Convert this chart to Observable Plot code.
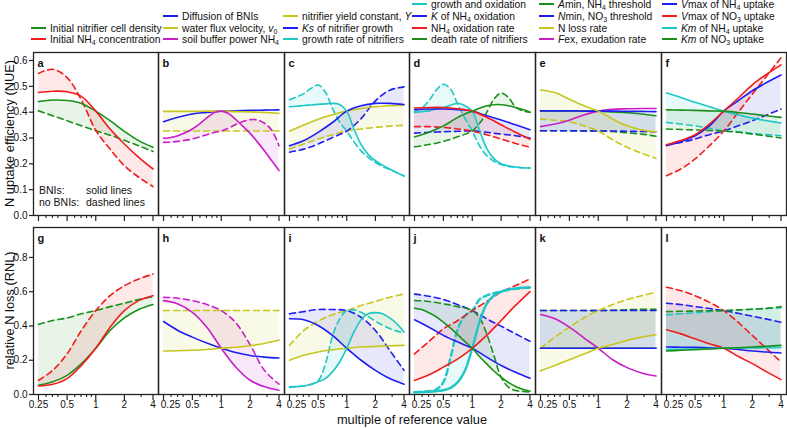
<!DOCTYPE html>
<html><head><meta charset="utf-8">
<script src="https://cdn.jsdelivr.net/npm/d3@7"></script>
<script src="https://cdn.jsdelivr.net/npm/@observablehq/plot@0.6"></script>
<style>
body{margin:0;background:#fff;font-family:"Liberation Sans",Arial,sans-serif;color:#111;}
#chart{position:relative;width:787px;height:428px;overflow:hidden;background:#fff;}
.leg{position:absolute;font-size:10.3px;line-height:12px;white-space:nowrap;}
.sw{display:inline-block;width:15px;height:0;border-top:2px solid;vertical-align:middle;margin-right:4px;position:relative;top:-1px;}
sub{font-size:0.68em;vertical-align:-0.3em;line-height:0;}
.note{position:absolute;font-size:10.5px;white-space:nowrap;}
.title{position:absolute;font-size:12.8px;line-height:13px;white-space:nowrap;text-align:center;}
</style></head><body><div id="chart"></div><script>
// ---------- x grids ----------
const X9 = [0.25, 0.3536, 0.5, 0.7071, 1, 1.4142, 2, 2.8284, 4];
const X17 = [0.25, 0.2973, 0.3536, 0.4204, 0.5, 0.5946, 0.7071, 0.8409, 1, 1.1892, 1.4142, 1.6818, 2, 2.3784, 2.8284, 3.3636, 4];
// ---------- ticks ----------
const xTicks = [0.25, 0.5, 1, 2, 4];
const xMinor = [0.3, 0.35, 0.4, 0.6, 0.7, 0.8, 0.9, 3];
const yTicksNUE = [0, 0.1, 0.2, 0.3, 0.4, 0.5, 0.6];
const yTicksRNL = [0, 0.2, 0.4, 0.6, 0.8];
// ---------- panel a ----------
const a_green_bni = [0.441, 0.447, 0.445, 0.434, 0.404, 0.367, 0.326, 0.29, 0.264];
const a_green_no  = [0.405, 0.386, 0.367, 0.347, 0.328, 0.311, 0.291, 0.27, 0.248];
const a_red_bni   = [0.476, 0.481, 0.479, 0.461, 0.404, 0.335, 0.277, 0.225, 0.18];
const a_red_no    = [0.55, 0.566, 0.534, 0.447, 0.33, 0.257, 0.193, 0.148, 0.112];
// ---------- panel b ----------
const b_blue_bni   = [0.363, 0.38, 0.393, 0.399, 0.404, 0.405, 0.407, 0.408, 0.409];
const b_yellow_bni = [0.403, 0.403, 0.403, 0.404, 0.404, 0.402, 0.401, 0.399, 0.396];
const b_yellow_no  = [0.327, 0.327, 0.327, 0.327, 0.327, 0.327, 0.327, 0.327, 0.327];
const b_magenta_bni = [0.299, 0.302, 0.309, 0.32, 0.335, 0.355, 0.378, 0.398, 0.404, 0.395, 0.372, 0.345, 0.318, 0.285, 0.25, 0.212, 0.174];
const b_magenta_no  = [0.283, 0.284, 0.287, 0.291, 0.296, 0.304, 0.313, 0.321, 0.327, 0.338, 0.352, 0.364, 0.371, 0.37, 0.357, 0.33, 0.27];
// ---------- panel c ----------
const c_yellow_bni = [0.326, 0.35, 0.373, 0.39, 0.404, 0.414, 0.421, 0.425, 0.427];
const c_yellow_no  = [0.257, 0.277, 0.296, 0.313, 0.327, 0.335, 0.341, 0.346, 0.349];
const c_blue_bni   = [0.27, 0.29, 0.322, 0.36, 0.404, 0.425, 0.434, 0.434, 0.43];
const c_blue_no    = [0.245, 0.257, 0.277, 0.302, 0.327, 0.375, 0.444, 0.485, 0.498];
const c_cyan_bni = [0.421, 0.423, 0.426, 0.428, 0.43, 0.432, 0.434, 0.43, 0.404, 0.335, 0.275, 0.236, 0.212, 0.195, 0.18, 0.166, 0.152];
const c_cyan_no  = [0.448, 0.459, 0.472, 0.492, 0.505, 0.478, 0.415, 0.362, 0.327, 0.285, 0.25, 0.225, 0.205, 0.19, 0.178, 0.166, 0.154];
// ---------- panel d ----------
const d_cyan_bni = [0.399, 0.402, 0.405, 0.412, 0.418, 0.427, 0.434, 0.425, 0.404, 0.33, 0.26, 0.22, 0.2, 0.192, 0.188, 0.185, 0.184];
const d_cyan_no  = [0.402, 0.416, 0.444, 0.485, 0.508, 0.489, 0.43, 0.375, 0.327, 0.27, 0.232, 0.21, 0.197, 0.19, 0.187, 0.185, 0.184];
const d_blue_bni = [0.41, 0.412, 0.412, 0.41, 0.404, 0.386, 0.37, 0.351, 0.332];
const d_blue_no  = [0.319, 0.322, 0.324, 0.326, 0.327, 0.322, 0.315, 0.309, 0.3];
const d_red_bni  = [0.416, 0.418, 0.418, 0.413, 0.404, 0.38, 0.351, 0.322, 0.295];
const d_red_no   = [0.344, 0.344, 0.341, 0.335, 0.327, 0.313, 0.296, 0.279, 0.264];
const d_green_bni = [0.305, 0.313, 0.322, 0.334, 0.347, 0.363, 0.38, 0.393, 0.404, 0.415, 0.425, 0.429, 0.429, 0.425, 0.418, 0.41, 0.4];
const d_green_no  = [0.266, 0.27, 0.275, 0.28, 0.287, 0.295, 0.305, 0.315, 0.327, 0.356, 0.399, 0.45, 0.474, 0.457, 0.42, 0.405, 0.4];
// ---------- panel e ----------
const e_green_bni   = [0.405, 0.405, 0.405, 0.404, 0.404, 0.401, 0.398, 0.393, 0.386];
const e_green_no    = [0.328, 0.328, 0.328, 0.327, 0.327, 0.325, 0.32, 0.315, 0.307];
const e_blue_bni    = [0.405, 0.405, 0.405, 0.404, 0.404, 0.404, 0.403, 0.403, 0.402];
const e_blue_no     = [0.328, 0.328, 0.328, 0.327, 0.327, 0.327, 0.326, 0.325, 0.324];
const e_yellow_bni  = [0.486, 0.476, 0.45, 0.425, 0.404, 0.373, 0.347, 0.331, 0.324];
const e_yellow_no   = [0.373, 0.369, 0.363, 0.347, 0.327, 0.293, 0.264, 0.241, 0.221];
const e_magenta_bni = [0.344, 0.354, 0.369, 0.389, 0.404, 0.411, 0.413, 0.414, 0.414];
// ---------- panel f ----------
const f_blue_bni  = [0.27, 0.286, 0.309, 0.347, 0.404, 0.444, 0.483, 0.515, 0.544];
const f_blue_no   = [0.273, 0.283, 0.296, 0.313, 0.327, 0.347, 0.367, 0.389, 0.412];
const f_red_bni   = [0.274, 0.29, 0.313, 0.354, 0.404, 0.454, 0.506, 0.547, 0.583];
const f_red_no    = [0.154, 0.18, 0.219, 0.27, 0.327, 0.399, 0.47, 0.54, 0.611];
const f_cyan_bni  = [0.474, 0.457, 0.438, 0.421, 0.404, 0.39, 0.377, 0.367, 0.358];
const f_cyan_no   = [0.36, 0.354, 0.347, 0.338, 0.327, 0.324, 0.318, 0.313, 0.309];
const f_green_bni = [0.409, 0.408, 0.407, 0.405, 0.404, 0.399, 0.393, 0.386, 0.38];
const f_green_no  = [0.335, 0.333, 0.331, 0.329, 0.327, 0.322, 0.315, 0.308, 0.3];
// ---------- panel g ----------
const g_green_bni = [0.054, 0.074, 0.112, 0.18, 0.27, 0.374, 0.447, 0.496, 0.525];
const g_green_no  = [0.409, 0.432, 0.447, 0.471, 0.49, 0.513, 0.533, 0.554, 0.571];
const g_red_bni   = [0.05, 0.06, 0.093, 0.17, 0.27, 0.393, 0.49, 0.548, 0.577];
const g_red_no    = [0.083, 0.141, 0.238, 0.374, 0.49, 0.577, 0.635, 0.674, 0.703];
// ---------- panel h ----------
const h_blue_bni    = [0.426, 0.374, 0.335, 0.3, 0.27, 0.245, 0.228, 0.218, 0.213];
const h_yellow_bni  = [0.254, 0.255, 0.258, 0.263, 0.27, 0.276, 0.285, 0.298, 0.318];
const h_yellow_no   = [0.49, 0.49, 0.49, 0.49, 0.49, 0.49, 0.49, 0.49, 0.49];
const h_magenta_bni = [0.548, 0.529, 0.48, 0.393, 0.27, 0.161, 0.083, 0.045, 0.025];
const h_magenta_no  = [0.568, 0.562, 0.548, 0.525, 0.49, 0.42, 0.29, 0.14, 0.06];
// ---------- panel i ----------
const i_yellow_bni = [0.2, 0.229, 0.248, 0.261, 0.27, 0.277, 0.281, 0.285, 0.287];
const i_yellow_no  = [0.287, 0.374, 0.428, 0.466, 0.49, 0.519, 0.544, 0.568, 0.587];
const i_blue_bni   = [0.442, 0.436, 0.403, 0.345, 0.27, 0.2, 0.141, 0.093, 0.06];
const i_blue_no    = [0.471, 0.484, 0.496, 0.496, 0.49, 0.451, 0.374, 0.258, 0.141];
const i_cyan_bni = [0.041, 0.045, 0.05, 0.06, 0.074, 0.093, 0.132, 0.19, 0.27, 0.364, 0.436, 0.471, 0.478, 0.471, 0.447, 0.413, 0.364];
const i_cyan_no  = [0.045, 0.047, 0.05, 0.058, 0.08, 0.175, 0.34, 0.44, 0.49, 0.494, 0.48, 0.455, 0.428, 0.405, 0.385, 0.37, 0.36];
// ---------- panel j ----------
const j_cyan_bni = [0.012, 0.014, 0.016, 0.019, 0.025, 0.039, 0.072, 0.14, 0.27, 0.422, 0.529, 0.578, 0.601, 0.613, 0.619, 0.623, 0.625];
const j_cyan_no  = [0.014, 0.016, 0.019, 0.029, 0.072, 0.218, 0.383, 0.46, 0.49, 0.555, 0.578, 0.592, 0.601, 0.611, 0.617, 0.621, 0.625];
const j_blue_bni = [0.436, 0.393, 0.345, 0.306, 0.27, 0.218, 0.169, 0.13, 0.095];
const j_blue_no  = [0.586, 0.574, 0.555, 0.524, 0.49, 0.442, 0.399, 0.354, 0.311];
const j_red_bni  = [0.082, 0.115, 0.16, 0.208, 0.27, 0.345, 0.432, 0.52, 0.601];
const j_red_no   = [0.237, 0.309, 0.383, 0.432, 0.49, 0.543, 0.598, 0.636, 0.675];
const j_green_bni = [0.504, 0.496, 0.477, 0.454, 0.422, 0.388, 0.348, 0.309, 0.27, 0.222, 0.179, 0.137, 0.101, 0.071, 0.047, 0.03, 0.019];
const j_green_no  = [0.549, 0.547, 0.543, 0.537, 0.529, 0.522, 0.512, 0.505, 0.49, 0.45, 0.354, 0.228, 0.101, 0.043, 0.023, 0.018, 0.014];
// ---------- panel k ----------
const k_green_bni   = [0.27, 0.27, 0.27, 0.27, 0.27, 0.27, 0.27, 0.27, 0.27];
const k_green_no    = [0.49, 0.49, 0.49, 0.49, 0.49, 0.492, 0.495, 0.497, 0.498];
const k_blue_bni    = [0.27, 0.27, 0.27, 0.27, 0.27, 0.27, 0.27, 0.27, 0.27];
const k_blue_no     = [0.49, 0.49, 0.49, 0.49, 0.49, 0.49, 0.49, 0.49, 0.49];
const k_yellow_bni  = [0.138, 0.17, 0.203, 0.236, 0.27, 0.292, 0.316, 0.335, 0.349];
const k_yellow_no   = [0.27, 0.335, 0.393, 0.447, 0.49, 0.525, 0.554, 0.577, 0.597];
const k_magenta_bni = [0.467, 0.442, 0.393, 0.331, 0.27, 0.203, 0.157, 0.126, 0.108];
// ---------- panel l ----------
const l_blue_bni  = [0.277, 0.276, 0.275, 0.272, 0.27, 0.263, 0.254, 0.248, 0.242];
const l_blue_no   = [0.533, 0.525, 0.513, 0.502, 0.49, 0.474, 0.457, 0.44, 0.422];
const l_red_bni   = [0.378, 0.354, 0.325, 0.296, 0.27, 0.223, 0.18, 0.132, 0.087];
const l_red_no    = [0.626, 0.606, 0.577, 0.538, 0.49, 0.422, 0.345, 0.267, 0.19];
const l_cyan_bni  = [0.262, 0.264, 0.266, 0.268, 0.27, 0.271, 0.272, 0.273, 0.274];
const l_cyan_no   = [0.465, 0.471, 0.477, 0.484, 0.49, 0.494, 0.498, 0.502, 0.506];
const l_green_bni = [0.254, 0.258, 0.262, 0.266, 0.27, 0.273, 0.277, 0.282, 0.287];
const l_green_no  = [0.484, 0.486, 0.487, 0.489, 0.49, 0.494, 0.498, 0.503, 0.513];
// ---------- legends ----------
const legend0 = [["green", "Initial nitrifier cell density"], ["red", "Initial NH<sub>4</sub> concentration"]];
const legend1 = [["blue", "Diffusion of BNIs"], ["yellow", "water flux velocity, <i>v</i><sub>0</sub>"], ["magenta", "soil buffer power NH<sub>4</sub>"]];
const legend2 = [["yellow", "nitrifier yield constant, <i>Y</i>"], ["blue", "<i>Ks</i> of nitrifier growth"], ["cyan", "growth rate of nitrifiers"]];
const legend3 = [["cyan", "growth and oxidation"], ["blue", "<i>K</i> of NH<sub>4</sub> oxidation"], ["red", "NH<sub>4</sub> oxidation rate"], ["green", "death rate of nitrifiers"]];
const legend4 = [["green", "<i>A</i>min, NH<sub>4</sub> threshold"], ["blue", "<i>N</i>min, NO<sub>3</sub> threshold"], ["yellow", "N loss rate"], ["magenta", "<i>F</i>ex, exudation rate"]];
const legend5 = [["blue", "<i>V</i>max of NH<sub>4</sub> uptake"], ["red", "<i>V</i>max of NO<sub>3</sub> uptake"], ["cyan", "<i>Km</i> of NH<sub>4</sub> uptake"], ["green", "<i>Km</i> of NO<sub>3</sub> uptake"]];

const COLORS = {green: "#1a901a", red: "#f21c1c", blue: "#1e1ef0", yellow: "#c6c61e", magenta: "#c81ec8", cyan: "#1ec6c6"};

// ---------- assemble ----------
const S = (c, xs, bni, no, w) => ({c, xs, bni, no, w: w || 1.6});
const panels = [
  {id: "a", row: 0, col: 0, series: [S("green", X9, a_green_bni, a_green_no), S("red", X9, a_red_bni, a_red_no)]},
  {id: "b", row: 0, col: 1, series: [S("blue", X9, b_blue_bni, null), S("yellow", X9, b_yellow_bni, b_yellow_no), S("magenta", X17, b_magenta_bni, b_magenta_no)]},
  {id: "c", row: 0, col: 2, series: [S("yellow", X9, c_yellow_bni, c_yellow_no), S("blue", X9, c_blue_bni, c_blue_no), S("cyan", X17, c_cyan_bni, c_cyan_no)]},
  {id: "d", row: 0, col: 3, series: [S("cyan", X17, d_cyan_bni, d_cyan_no), S("blue", X9, d_blue_bni, d_blue_no), S("red", X9, d_red_bni, d_red_no), S("green", X17, d_green_bni, d_green_no)]},
  {id: "e", row: 0, col: 4, series: [S("magenta", X9, e_magenta_bni, null), S("green", X9, e_green_bni, e_green_no), S("blue", X9, e_blue_bni, e_blue_no), S("yellow", X9, e_yellow_bni, e_yellow_no)]},
  {id: "f", row: 0, col: 5, series: [S("blue", X9, f_blue_bni, f_blue_no), S("red", X9, f_red_bni, f_red_no), S("cyan", X9, f_cyan_bni, f_cyan_no), S("green", X9, f_green_bni, f_green_no)]},
  {id: "g", row: 1, col: 0, series: [S("green", X9, g_green_bni, g_green_no), S("red", X9, g_red_bni, g_red_no)]},
  {id: "h", row: 1, col: 1, series: [S("blue", X9, h_blue_bni, null), S("magenta", X9, h_magenta_bni, h_magenta_no), S("yellow", X9, h_yellow_bni, h_yellow_no)]},
  {id: "i", row: 1, col: 2, series: [S("yellow", X9, i_yellow_bni, i_yellow_no), S("blue", X9, i_blue_bni, i_blue_no), S("cyan", X17, i_cyan_bni, i_cyan_no)]},
  {id: "j", row: 1, col: 3, series: [S("cyan", X17, j_cyan_bni, j_cyan_no, 2.4), S("blue", X9, j_blue_bni, j_blue_no), S("red", X9, j_red_bni, j_red_no), S("green", X17, j_green_bni, j_green_no)]},
  {id: "k", row: 1, col: 4, series: [S("magenta", X9, k_magenta_bni, null), S("green", X9, k_green_bni, k_green_no), S("blue", X9, k_blue_bni, k_blue_no), S("yellow", X9, k_yellow_bni, k_yellow_no)]},
  {id: "l", row: 1, col: 5, series: [S("blue", X9, l_blue_bni, l_blue_no), S("red", X9, l_red_bni, l_red_no), S("cyan", X9, l_cyan_bni, l_cyan_no), S("green", X9, l_green_bni, l_green_no)]}
];

const COL_X = [33, 158, 284, 409, 535, 661, 786];
const ROWS = [
  {top: 52, bottom: 215, ymax: 0.631, yticks: yTicksNUE},
  {top: 227, bottom: 394, ymax: 0.975, yticks: yTicksRNL}
];
const XDOM = [0.2216, 4.566];
const chart = document.getElementById("chart");
const FONT = "'Liberation Sans', Arial, sans-serif";
const INK = "#222";

function drawPanel(p) {
  const R = ROWS[p.row];
  const left = COL_X[p.col], right = COL_X[p.col + 1];
  const mL = p.col === 0 ? 34 : 2, mR = 2, mT = 2, mB = p.row === 0 ? 10 : 24;
  const w = right - left + mL + mR, h = R.bottom - R.top + mT + mB;
  const ppu = (R.bottom - R.top) / R.ymax;
  const ppx = (right - left) / Math.log2(XDOM[1] / XDOM[0]);
  const marks = [];
  for (const s of p.series) {
    if (!s.no) continue;
    const rows = s.xs.map((x, i) => ({x, a: s.bni[i], b: s.no[i]}));
    marks.push(Plot.areaY(rows, {x: "x", y1: "a", y2: "b", fill: COLORS[s.c], fillOpacity: 0.1, curve: "catmull-rom"}));
  }
  for (const s of p.series) {
    if (!s.no) continue;
    const rows = s.xs.map((x, i) => ({x, y: s.no[i]}));
    marks.push(Plot.line(rows, {x: "x", y: "y", stroke: COLORS[s.c], strokeWidth: s.w, strokeDasharray: "6,4", curve: "catmull-rom", clip: true}));
  }
  for (const s of p.series) {
    const rows = s.xs.map((x, i) => ({x, y: s.bni[i]}));
    marks.push(Plot.line(rows, {x: "x", y: "y", stroke: COLORS[s.c], strokeWidth: s.w, curve: "catmull-rom", clip: true}));
  }
  marks.push(Plot.frame({stroke: INK, strokeWidth: 1.3}));
  marks.push(Plot.ruleX(xTicks, {x: d => d, y1: 0, y2: -6 / ppu, stroke: INK, strokeWidth: 1.2}));
  marks.push(Plot.ruleX(xMinor, {x: d => d, y1: 0, y2: -3 / ppu, stroke: INK, strokeWidth: 1.1}));
  if (p.row === 1) {
    const shift = p.col === 0 ? 0 : 7;
    marks.push(Plot.text(xTicks.filter(d => d === 0.25), {x: d => d, text: d => String(d), frameAnchor: "bottom", dy: 13.5, dx: shift, fontSize: 10, fill: "#111"}));
    marks.push(Plot.text(xTicks.filter(d => d !== 0.25), {x: d => d, text: d => String(d), frameAnchor: "bottom", dy: 13.5, fontSize: 10, fill: "#111"}));
  }
  if (p.col === 0) {
    const xl = XDOM[0] / Math.pow(2, 4 / ppx);
    marks.push(Plot.ruleY(R.yticks, {y: d => d, x1: xl, x2: XDOM[0], stroke: INK, strokeWidth: 1.2}));
    marks.push(Plot.text(R.yticks, {y: d => d, text: d => d.toFixed(1), frameAnchor: "left", dx: -6, textAnchor: "end", fontSize: 10, fill: "#111"}));
  }
  marks.push(Plot.text([p.id], {frameAnchor: "top-left", dx: 4, dy: 7, text: d => d, fontWeight: "bold", fontSize: 11, fill: "#111"}));
  const svg = Plot.plot({
    width: w, height: h, marginLeft: mL, marginRight: mR, marginTop: mT, marginBottom: mB,
    x: {type: "log", domain: XDOM, axis: null},
    y: {domain: [0, R.ymax], axis: null},
    style: {fontFamily: FONT, fontSize: "10px", color: "#111", background: "transparent", overflow: "visible"},
    marks
  });
  svg.style.position = "absolute";
  svg.style.left = (left - mL) + "px";
  svg.style.top = (R.top - mT) + "px";
  chart.appendChild(svg);
}
panels.forEach(drawPanel);

// legends
const LEGS = [legend0, legend1, legend2, legend3, legend4, legend5];
const LEG_X = [31, 163, 283, 412, 539, 662];
const LEG_Y = [5, 16.8, 28.5, 40.2];
LEGS.forEach((entries, c) => {
  entries.forEach(([col, html], i) => {
    const yc = LEG_Y[4 - entries.length + i];
    const div = document.createElement("div");
    div.className = "leg";
    div.style.left = LEG_X[c] + "px";
    div.style.top = (yc - 6) + "px";
    div.innerHTML = `<span class="sw" style="border-color:${COLORS[col]}"></span>${html}`;
    chart.appendChild(div);
  });
});

// notes and titles
function addText(cls, html, left, top, extra) {
  const d = document.createElement("div");
  d.className = cls; d.innerHTML = html;
  d.style.left = left + "px"; d.style.top = top + "px";
  if (extra) Object.assign(d.style, extra);
  chart.appendChild(d);
  return d;
}
addText("note", "BNIs:", 39, 184);
addText("note", "solid lines", 86, 184);
addText("note", "no BNIs:", 39, 196);
addText("note", "dashed lines", 86, 196);
addText("title", "multiple of reference value", 312, 413, {width: "200px"});
addText("title", "N uptake efficiency (NUE)", 8.5 - 100, 133.5 - 6.5, {width: "200px", transform: "rotate(-90deg)"});
addText("title", "relative N loss (RNL)", 8.5 - 100, 310.5 - 6.5, {width: "200px", transform: "rotate(-90deg)"});
</script></body></html>
